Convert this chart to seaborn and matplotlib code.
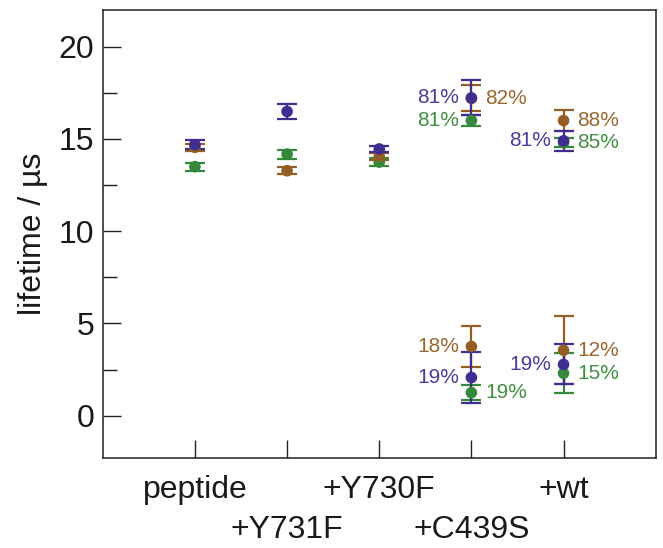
import numpy as np
import pandas as pd
import seaborn as sns
import matplotlib.pyplot as plt
from matplotlib.ticker import MultipleLocator

# samples along x
SAMPLES = ["peptide", "+Y731F", "+Y730F", "+C439S", "+wt"]

# long lifetime component (us) and error, per series
PURPLE_TAU1 = [14.69, 16.49, 14.46, 17.23, 14.90]
PURPLE_ERR1 = [0.23, 0.40, 0.18, 0.95, 0.55]
BROWN_TAU1 = [14.55, 13.28, 14.05, 17.20, 16.00]
BROWN_ERR1 = [0.20, 0.20, 0.20, 0.70, 0.58]
GREEN_TAU1 = [13.50, 14.18, 13.75, 16.00, 14.80]
GREEN_ERR1 = [0.22, 0.24, 0.22, 0.30, 0.25]

# short component, only for +C439S and +wt
SHORT_SAMPLES = ["+C439S", "+wt"]
PURPLE_TAU2 = [2.07, 2.78]
PURPLE_ERR2 = [1.40, 1.08]
BROWN_TAU2 = [3.75, 3.55]
BROWN_ERR2 = [1.10, 1.85]
GREEN_TAU2 = [1.25, 2.30]
GREEN_ERR2 = [0.42, 1.08]

# amplitude fractions for the two-component fits
PURPLE_PCT1 = ["81%", "81%"]
PURPLE_PCT2 = ["19%", "19%"]
BROWN_PCT1 = ["82%", "88%"]
BROWN_PCT2 = ["18%", "12%"]
GREEN_PCT1 = ["81%", "85%"]
GREEN_PCT2 = ["19%", "15%"]

COLOURS = {"purple": "#3f2e8f", "brown": "#945d24", "green": "#35893a"}
TEXT_COLOURS = {"purple": "#4a3c96", "brown": "#9a652e", "green": "#3f8f3f"}


def build_frame():
    rows = []
    series = [
        ("green", GREEN_TAU1, GREEN_ERR1, GREEN_TAU2, GREEN_ERR2, GREEN_PCT1, GREEN_PCT2),
        ("brown", BROWN_TAU1, BROWN_ERR1, BROWN_TAU2, BROWN_ERR2, BROWN_PCT1, BROWN_PCT2),
        ("purple", PURPLE_TAU1, PURPLE_ERR1, PURPLE_TAU2, PURPLE_ERR2, PURPLE_PCT1, PURPLE_PCT2),
    ]
    for name, t1, e1, t2, e2, p1, p2 in series:
        for i, s in enumerate(SAMPLES):
            pct = ""
            if s in SHORT_SAMPLES:
                pct = p1[SHORT_SAMPLES.index(s)]
            rows.append(dict(sample=s, x=SAMPLES.index(s) + 1, series=name,
                             tau=t1[i], err=e1[i], pct=pct, comp=1))
        for j, s in enumerate(SHORT_SAMPLES):
            rows.append(dict(sample=s, x=SAMPLES.index(s) + 1, series=name,
                             tau=t2[j], err=e2[j], pct=p2[j], comp=2))
    return pd.DataFrame(rows)


# which side of the point each percentage sits on: (series, sample, comp) -> left
LEFT_LABELS = {("purple", "+C439S", 1), ("purple", "+wt", 1), ("green", "+C439S", 1),
               ("brown", "+C439S", 2), ("purple", "+C439S", 2), ("purple", "+wt", 2)}


def main():
    sns.set_theme(style="ticks")
    plt.rcParams["font.family"] = ["Liberation Sans", "DejaVu Sans"]

    df = build_frame()

    f = plt.figure(figsize=(6.63, 5.48), dpi=100)
    ax = f.add_axes([0.155, 0.164, 0.834, 0.818])

    for name in ["green", "brown", "purple"]:
        d = df[df["series"] == name]
        ax.errorbar(d["x"], d["tau"], yerr=d["err"], fmt="none",
                    ecolor=COLOURS[name], elinewidth=1.6, capsize=7.5,
                    capthick=1.6, zorder=2)

    sns.scatterplot(data=df, x="x", y="tau", hue="series", palette=COLOURS,
                    s=70, edgecolor="none", legend=False, ax=ax, zorder=3)

    # percentage labels
    for _, r in df[df["pct"] != ""].iterrows():
        left = (r["series"], r["sample"], r["comp"]) in LEFT_LABELS
        ax.annotate(r["pct"], (r["x"], r["tau"]),
                    xytext=(-9 if left else 10, 0), textcoords="offset points",
                    ha="right" if left else "left", va="center",
                    fontsize=15, color=TEXT_COLOURS[r["series"]])

    ax.set_xlim(0, 6)
    ax.set_ylim(-2.3, 22)
    # staggered sample labels: odd ones on the major ticks, even ones one row lower
    ax.set_xticks([1, 3, 5])
    ax.set_xticklabels(SAMPLES[0::2], fontsize=23)
    ax.set_xticks([2, 4], minor=True)
    ax.set_xticklabels(SAMPLES[1::2], minor=True, fontsize=23)
    ax.yaxis.set_major_locator(MultipleLocator(5))
    ax.yaxis.set_minor_locator(MultipleLocator(2.5))
    ax.tick_params(axis="y", which="major", direction="in", length=13, width=1.0,
                   labelsize=23, pad=6, color="#222222", labelcolor="#1a1a1a")
    ax.tick_params(axis="y", which="minor", direction="in", length=10, width=1.0,
                   color="#222222")
    ax.tick_params(axis="x", which="major", direction="in", length=13, width=1.0,
                   pad=12, color="#222222", labelcolor="#1a1a1a")
    ax.tick_params(axis="x", which="minor", direction="in", length=13, width=1.0,
                   pad=41, color="#222222", labelcolor="#1a1a1a")
    ax.set_xlabel("")
    ax.set_ylabel("lifetime / µs", fontsize=23, labelpad=8, color="#1a1a1a")
    for sp in ax.spines.values():
        sp.set_linewidth(1.1)
        sp.set_color("#222222")

    f.savefig("out.png", dpi=100)


if __name__ == "__main__":
    main()
